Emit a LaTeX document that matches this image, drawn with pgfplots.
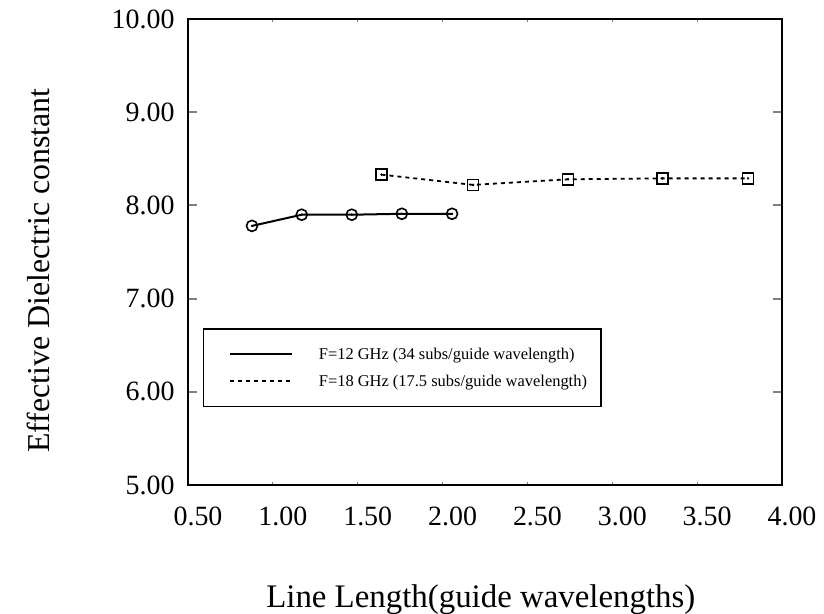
\documentclass[border=0pt]{standalone}
\usepackage{fontspec}
\setmainfont{Liberation Serif}
\usepackage{pgfplots}
\pgfplotsset{compat=1.18}
\begin{document}
\begin{tikzpicture}[x=1bp,y=1bp]
\useasboundingbox (-188,-129) rectangle (636,485);
\begin{axis}[
  at={(0,0)}, anchor=south west,
  scale only axis, width=594bp, height=466bp,
  xmin=0.5, xmax=4.0, ymin=5, ymax=10,
  xtick={0.5,1.0,1.5,2.0,2.5,3.0,3.5,4.0},
  ytick={5,6,7,8,9,10},
  xticklabels={0.50,1.00,1.50,2.00,2.50,3.00,3.50,4.00},
  yticklabels={5.00,6.00,7.00,8.00,9.00,10.00},
  tick align=inside,
  xtick pos=both, ytick pos=both,
  xtick style={/pgfplots/major tick length=3bp, line width=1bp},
  ytick style={/pgfplots/major tick length=9bp, line width=2bp},
  axis line style={line width=1.3bp},
  ticklabel style={font=\fontsize{28}{32}\selectfont},
  xticklabel style={xshift=10bp, yshift=-18bp},
  yticklabel style={xshift=-10bp},
  xlabel={Line Length(guide wavelengths)},
  ylabel={Effective Dielectric constant},
  xlabel style={font=\fontsize{33}{38}\selectfont, at={(axis description cs:0.493,-0.245)}, anchor=center},
  ylabel style={font=\fontsize{32}{37}\selectfont, at={(axis description cs:-0.2525,0.46)}, anchor=center},
  legend style={at={(axis cs:0.59,6.68)}, anchor=north west, draw=black, line width=1.2bp,
    inner xsep=14bp, inner ysep=17bp, row sep=10bp,
    font=\fontsize{16.5}{19}\selectfont,
    nodes={inner xsep=0bp, inner ysep=2bp},
    /tikz/every odd column/.append style={column sep=26bp}},
  legend cell align=left,
  legend image code/.code={\path (0bp,0bp); \draw[#1] (11bp,0bp) -- (73bp,0bp);},
]
\addplot[black, line width=2bp, mark=o, mark size=5.5bp, mark options={solid, line width=1.6bp}] coordinates {
  (0.877,7.78) (1.17,7.90) (1.465,7.90) (1.76,7.91) (2.056,7.91)
};
\addlegendentry{F=12 GHz (34 subs/guide wavelength)}
\addplot[black, line width=1.8bp, dash pattern=on 4bp off 4bp, mark=square, mark size=5.5bp, mark options={solid, line width=1.6bp}] coordinates {
  (1.64,8.33) (2.18,8.22) (2.74,8.28) (3.295,8.29) (3.80,8.29)
};
\addlegendentry{F=18 GHz (17.5 subs/guide wavelength)}
\addplot[black, only marks, mark=*, mark size=1bp, forget plot] coordinates {
  (0.877,7.78) (1.17,7.90) (1.465,7.90) (1.76,7.91) (2.056,7.91)
  (1.64,8.33) (2.18,8.22) (2.74,8.28) (3.295,8.29) (3.80,8.29)
};
\node[font=\fontsize{28}{32}\selectfont] at (axis description cs:-0.249,0.055) {.};
\end{axis}
\end{tikzpicture}
\end{document}
